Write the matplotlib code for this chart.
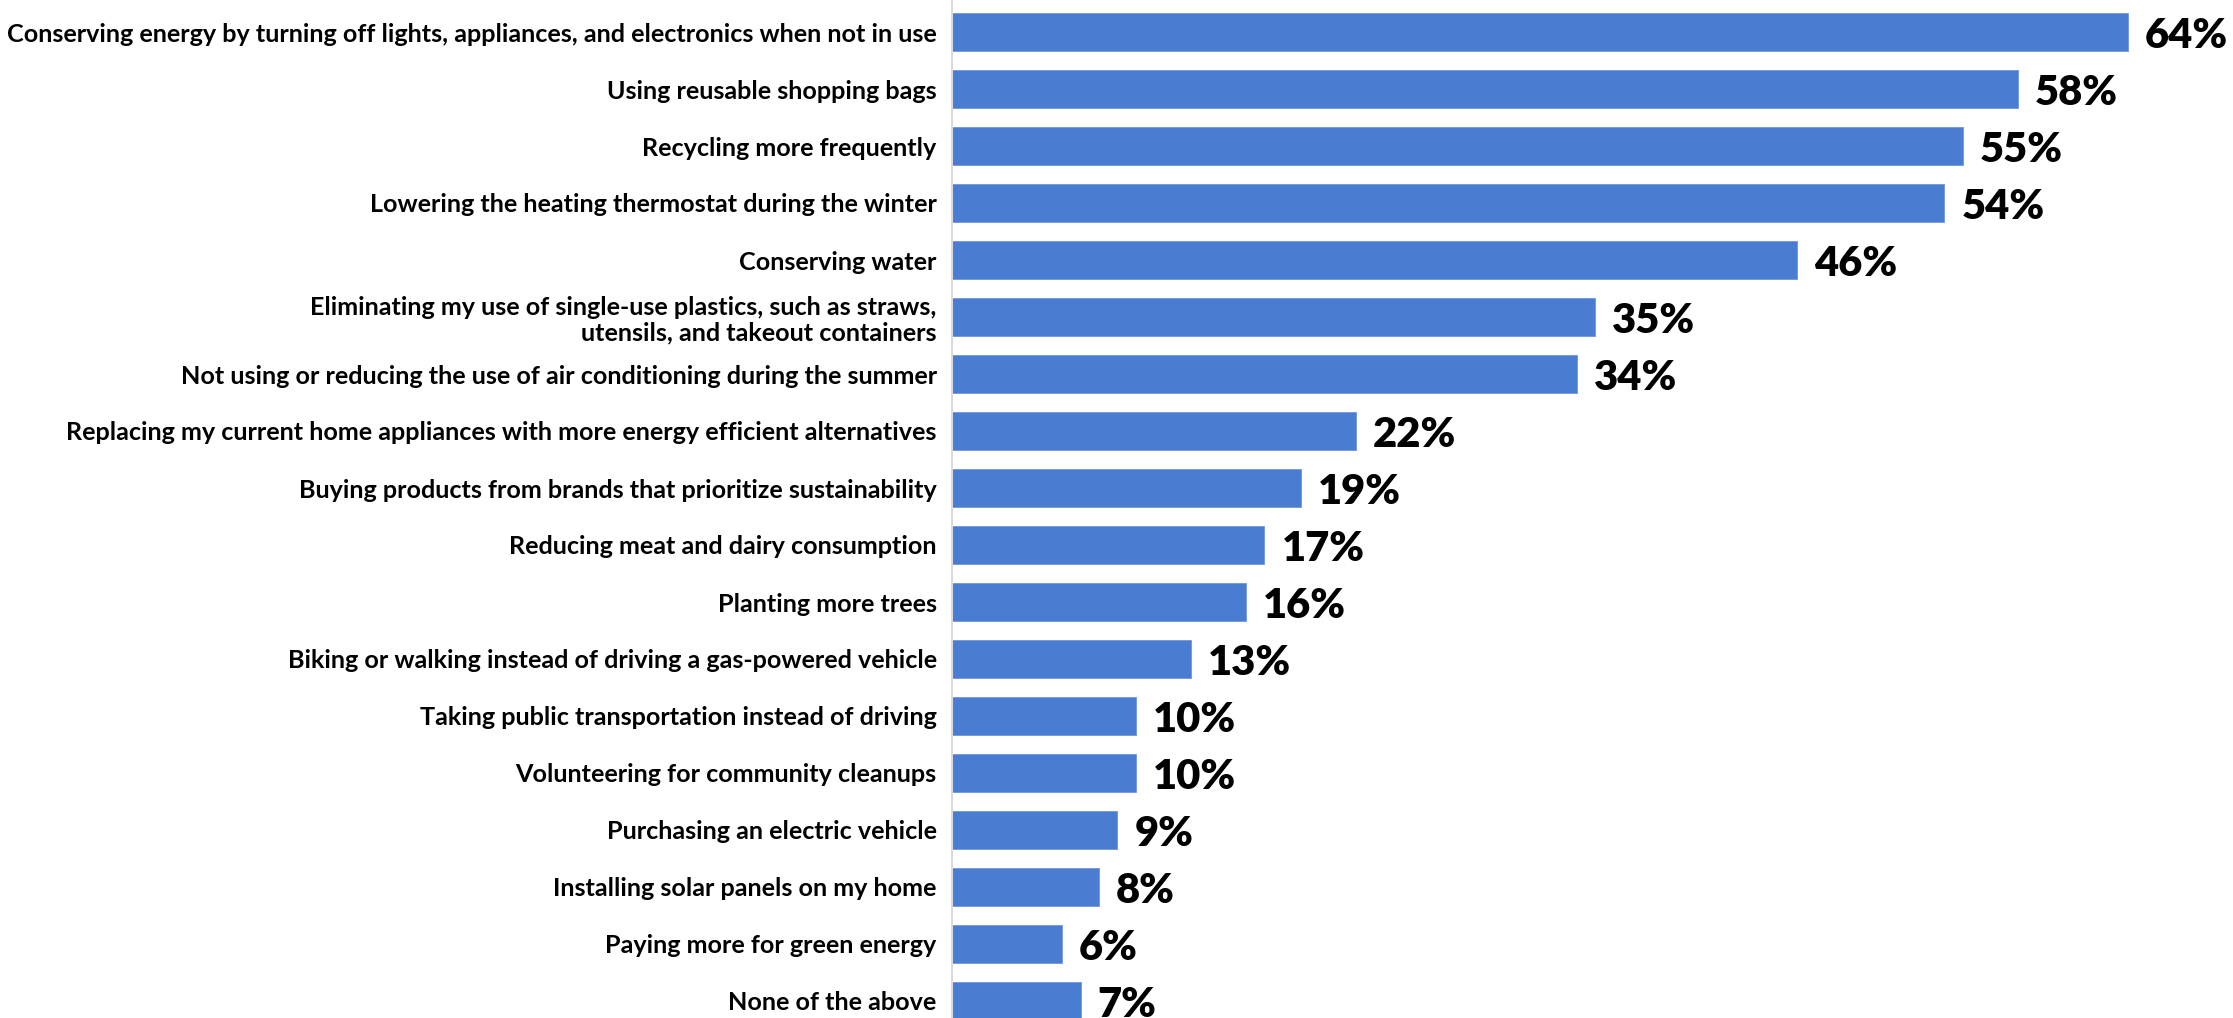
import matplotlib
matplotlib.use("Agg")
import matplotlib.pyplot as plt

categories = [
    "Conserving energy by turning off lights, appliances, and electronics when not in use",
    "Using reusable shopping bags",
    "Recycling more frequently",
    "Lowering the heating thermostat during the winter",
    "Conserving water",
    "Eliminating my use of single-use plastics, such as straws,\nutensils, and takeout containers",
    "Not using or reducing the use of air conditioning during the summer",
    "Replacing my current home appliances with more energy efficient alternatives",
    "Buying products from brands that prioritize sustainability",
    "Reducing meat and dairy consumption",
    "Planting more trees",
    "Biking or walking instead of driving a gas-powered vehicle",
    "Taking public transportation instead of driving",
    "Volunteering for community cleanups",
    "Purchasing an electric vehicle",
    "Installing solar panels on my home",
    "Paying more for green energy",
    "None of the above",
]
values = [64, 58, 55, 54, 46, 35, 34, 22, 19, 17, 16, 13, 10, 10, 9, 8, 6, 7]

W, H = 2233, 1018
fig = plt.figure(figsize=(W / 100, H / 100), dpi=100)
ax_left = 952 / W
ax = fig.add_axes([ax_left, 0, 1 - ax_left, 1])

y = list(range(len(categories)))
ax.barh(y, values, height=0.667, color="#4A7CD1", edgecolor="#6f96dc", linewidth=0.6)

px_per_unit = 18.375
ax.set_xlim(0, (W - 952) / px_per_unit)
ax.set_ylim((H - 32) / 57, -32 / 57)

ax.set_yticks(y)
ax.set_yticklabels(categories, fontsize=18.1, fontweight="bold", family="Lato",
                   ha="right", linespacing=1.15)
ax.tick_params(axis="y", length=0, pad=11)
ax.set_xticks([])

for s in ["top", "right", "bottom"]:
    ax.spines[s].set_visible(False)
ax.spines["left"].set_color("#d9d9d9")
ax.spines["left"].set_linewidth(1.5)

for yi, v in zip(y, values):
    ax.annotate(f"{v}%", (v, yi), xytext=(17, -4), textcoords="offset pixels",
                va="center", ha="left", fontsize=30, fontweight="heavy", family="Lato", color="black")

fig.savefig("out.png", dpi=100)
